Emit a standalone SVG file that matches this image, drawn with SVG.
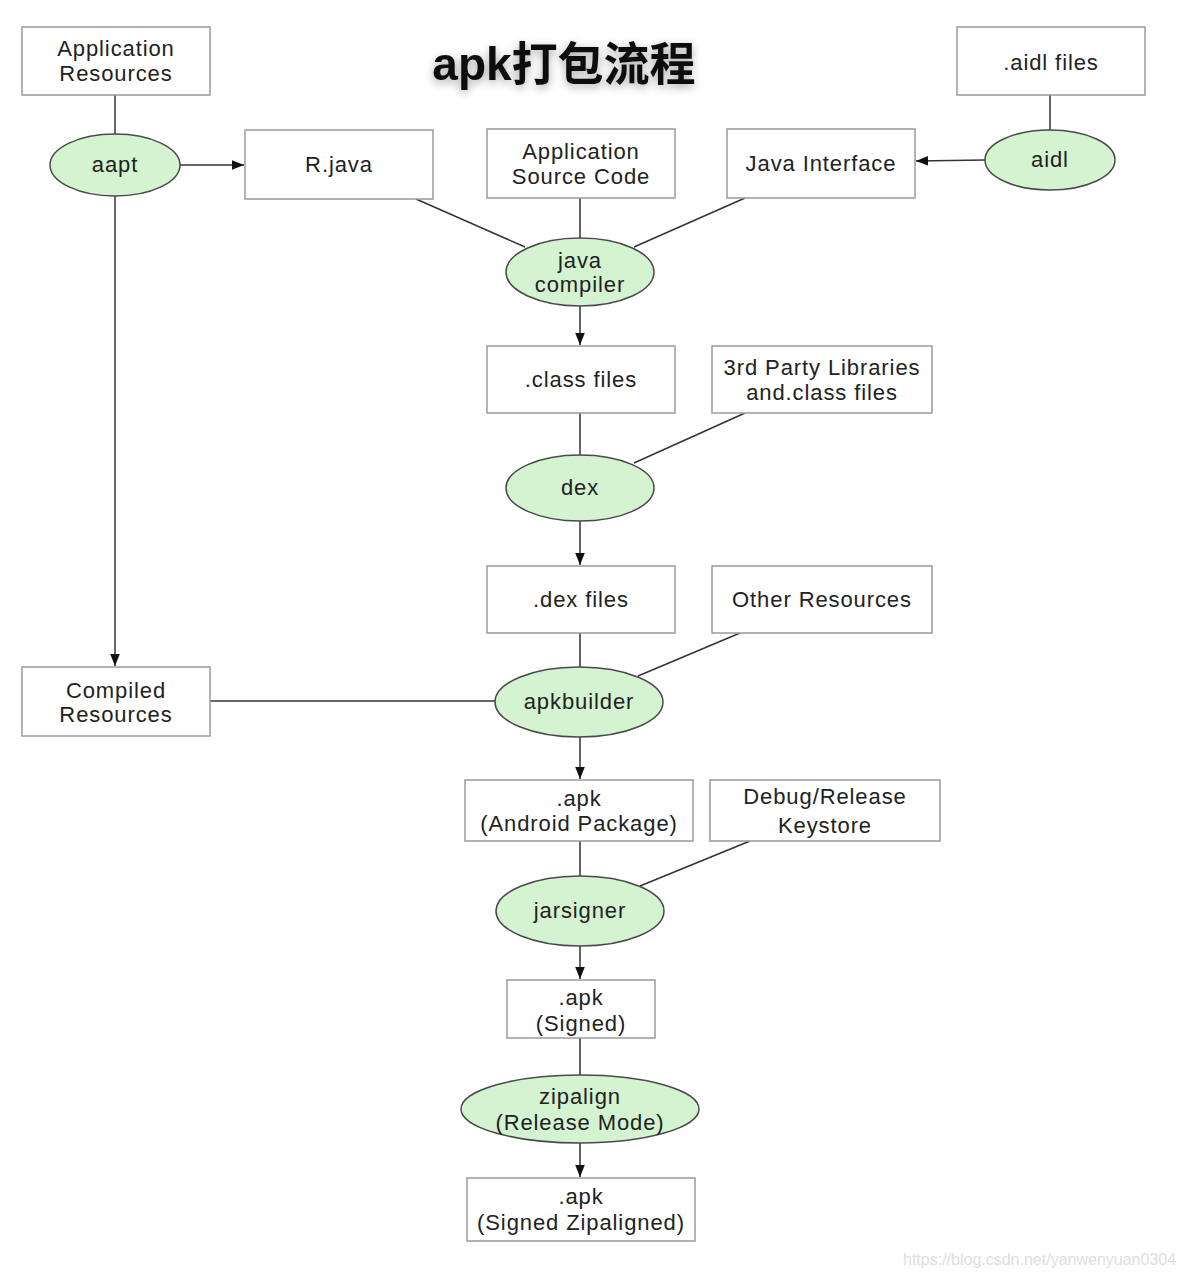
<svg xmlns="http://www.w3.org/2000/svg" width="1184" height="1278" viewBox="0 0 1184 1278">
<defs>
<style>
.box{fill:#fff;stroke:#9a9a9a;stroke-width:1.5}
.ell{fill:#d4f3d0;stroke:#4a4a4a;stroke-width:1.5}
.t{font-family:"Liberation Sans",Arial,sans-serif;font-size:22px;letter-spacing:0.9px;fill:#222;text-anchor:middle}
.c line{stroke:#333;stroke-width:1.5}
.title{font-family:"Liberation Sans","Noto Sans CJK SC",sans-serif;font-size:46px;font-weight:bold;fill:#111;text-anchor:middle}
.wm{font-family:"Liberation Sans",Arial,sans-serif;font-size:16px;fill:#dedede}
</style>
<marker id="arr" viewBox="0 0 10 10" refX="10" refY="5" markerWidth="12" markerHeight="12" markerUnits="userSpaceOnUse" orient="auto">
<path d="M0,1 L10,5 L0,9 z" fill="#111"/>
</marker>
<filter id="sh" x="-20%" y="-50%" width="140%" height="200%">
<feGaussianBlur in="SourceAlpha" stdDeviation="5"/>
<feOffset dx="0" dy="3" result="b"/>
<feComponentTransfer><feFuncA type="linear" slope="0.35"/></feComponentTransfer>
<feMerge><feMergeNode/><feMergeNode in="SourceGraphic"/></feMerge>
</filter>
</defs>
<rect width="1184" height="1278" fill="#fff"/>
<text class="title" x="564" y="80" filter="url(#sh)">apk打包流程</text>

<g class="c" id="connectors">
<line x1="115" y1="95" x2="115" y2="134"/>
<line x1="180" y1="165" x2="244" y2="165" marker-end="url(#arr)"/>
<line x1="115" y1="196" x2="115" y2="666" marker-end="url(#arr)"/>
<line x1="416" y1="199" x2="525" y2="247"/>
<line x1="580" y1="198" x2="580" y2="238"/>
<line x1="745" y1="198" x2="634" y2="247"/>
<line x1="1050" y1="95" x2="1050" y2="130"/>
<line x1="985" y1="160" x2="916" y2="161" marker-end="url(#arr)"/>
<line x1="580" y1="306" x2="580" y2="345" marker-end="url(#arr)"/>
<line x1="580" y1="413" x2="580" y2="455"/>
<line x1="745" y1="413" x2="634" y2="463"/>
<line x1="580" y1="521" x2="580" y2="565" marker-end="url(#arr)"/>
<line x1="580" y1="633" x2="580" y2="667"/>
<line x1="740" y1="633" x2="638" y2="676"/>
<line x1="210" y1="701" x2="495" y2="701"/>
<line x1="580" y1="737" x2="580" y2="779" marker-end="url(#arr)"/>
<line x1="580" y1="841" x2="580" y2="876"/>
<line x1="750" y1="841" x2="640" y2="886"/>
<line x1="580" y1="946" x2="580" y2="979" marker-end="url(#arr)"/>
<line x1="580" y1="1038" x2="580" y2="1075"/>
<line x1="580" y1="1143" x2="580" y2="1177" marker-end="url(#arr)"/>
</g>

<g id="app-resources"><rect class="box" x="22" y="27" width="188" height="68"/><text class="t" x="116" y="56">Application</text><text class="t" x="116" y="81">Resources</text></g>
<g id="aapt"><ellipse class="ell" cx="115" cy="165" rx="65" ry="31"/><text class="t" x="115" y="172">aapt</text></g>
<g id="rjava"><rect class="box" x="245" y="130" width="188" height="69"/><text class="t" x="339" y="172">R.java</text></g>
<g id="app-source"><rect class="box" x="487" y="129" width="188" height="69"/><text class="t" x="581" y="159">Application</text><text class="t" x="581" y="184">Source Code</text></g>
<g id="java-interface"><rect class="box" x="727" y="129" width="188" height="69"/><text class="t" x="821" y="171">Java Interface</text></g>
<g id="aidl-files"><rect class="box" x="957" y="27" width="188" height="68"/><text class="t" x="1051" y="70">.aidl files</text></g>
<g id="aidl"><ellipse class="ell" cx="1050" cy="160" rx="65" ry="30"/><text class="t" x="1050" y="167">aidl</text></g>
<g id="java-compiler"><ellipse class="ell" cx="580" cy="272" rx="74" ry="34"/><text class="t" x="580" y="268">java</text><text class="t" x="580" y="292">compiler</text></g>
<g id="class-files"><rect class="box" x="487" y="346" width="188" height="67"/><text class="t" x="581" y="387">.class files</text></g>
<g id="third-party"><rect class="box" x="712" y="346" width="220" height="67"/><text class="t" x="822" y="375">3rd Party Libraries</text><text class="t" x="822" y="400">and.class files</text></g>
<g id="dex"><ellipse class="ell" cx="580" cy="488" rx="74" ry="33"/><text class="t" x="580" y="495">dex</text></g>
<g id="dex-files"><rect class="box" x="487" y="566" width="188" height="67"/><text class="t" x="581" y="607">.dex files</text></g>
<g id="other-resources"><rect class="box" x="712" y="566" width="220" height="67"/><text class="t" x="822" y="607">Other Resources</text></g>
<g id="compiled-resources"><rect class="box" x="22" y="667" width="188" height="69"/><text class="t" x="116" y="698">Compiled</text><text class="t" x="116" y="722">Resources</text></g>
<g id="apkbuilder"><ellipse class="ell" cx="579" cy="702" rx="84" ry="35"/><text class="t" x="579" y="709">apkbuilder</text></g>
<g id="apk"><rect class="box" x="465" y="780" width="228" height="61"/><text class="t" x="579" y="806">.apk</text><text class="t" x="579" y="831">(Android Package)</text></g>
<g id="keystore"><rect class="box" x="710" y="780" width="230" height="61"/><text class="t" x="825" y="804">Debug/Release</text><text class="t" x="825" y="833">Keystore</text></g>
<g id="jarsigner"><ellipse class="ell" cx="580" cy="911" rx="84" ry="35"/><text class="t" x="580" y="918">jarsigner</text></g>
<g id="apk-signed"><rect class="box" x="507" y="980" width="148" height="58"/><text class="t" x="581" y="1005">.apk</text><text class="t" x="581" y="1031">(Signed)</text></g>
<g id="zipalign"><ellipse class="ell" cx="580" cy="1109" rx="119" ry="34"/><text class="t" x="580" y="1104">zipalign</text><text class="t" x="580" y="1130">(Release Mode)</text></g>
<g id="apk-zipaligned"><rect class="box" x="467" y="1178" width="228" height="63"/><text class="t" x="581" y="1204">.apk</text><text class="t" x="581" y="1230">(Signed Zipaligned)</text></g>

<text class="wm" x="903" y="1265">https://blog.csdn.net/yanwenyuan0304</text>
</svg>
